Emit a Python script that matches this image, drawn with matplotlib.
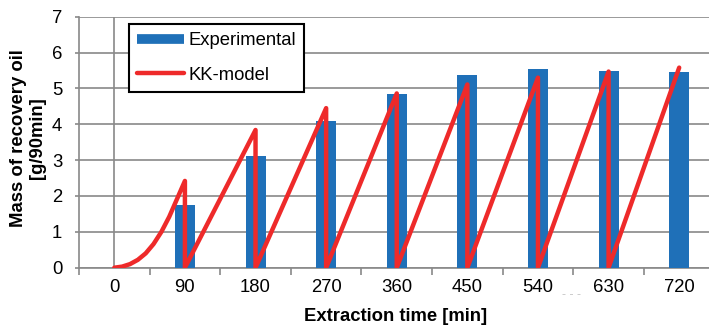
import matplotlib.pyplot as plt
from matplotlib.lines import Line2D
import numpy as np

plt.rcParams['font.family'] = ['Liberation Sans', 'DejaVu Sans']

# experimental mass of recovered oil per 90 min
times = [90, 180, 270, 360, 450, 540, 630, 720]
experimental = [1.75, 3.11, 4.10, 4.85, 5.37, 5.54, 5.49, 5.45]

# KK-model curve (sawtooth: resets to zero after each 90 min)
model_t = [0, 10, 20, 30, 40, 50, 60, 70, 80, 90,
           90, 180, 180, 270, 270, 360, 360, 450, 450, 540, 540, 630, 630, 720]
model_y = [0, 0.03, 0.1, 0.22, 0.4, 0.66, 1.0, 1.42, 1.92, 2.42,
           0, 3.84, 0, 4.45, 0, 4.86, 0, 5.11, 0, 5.30, 0, 5.47, 0, 5.58]

tick_labels = ['0', '90', '180', '270', '360', '450', '540', '630', '720']

grid_col = '#898989'
bar_col = '#1F70B8'
line_col = '#EE2A2A'
fs = 13.3

fig = plt.figure(figsize=(7.09, 3.27), dpi=100)
ax = fig.add_axes([79 / 709, 1 - 267.7 / 327, 1 - 79 / 709, 251 / 327])

ax.bar(times, experimental, width=25.5, color=bar_col, zorder=3)
ax.plot(model_t, model_y, color=line_col, lw=3.2, solid_capstyle='round',
        solid_joinstyle='round', zorder=4)

ax.set_xlim(-45, 758)
ax.set_ylim(0, 7)
ax.set_yticks(range(0, 8))
ax.yaxis.grid(True, color=grid_col, lw=1.2, zorder=0)
ax.axvline(0, color=grid_col, lw=1.2, zorder=1)

ax.set_xticks([0, 90, 180, 270, 360, 450, 540, 630, 720])
ax.set_xticklabels(tick_labels)
ax.set_xticks(np.arange(-45, 760, 90), minor=True)
ax.tick_params(axis='x', which='major', length=0, pad=8, labelsize=fs)
ax.tick_params(axis='x', which='minor', length=5, color=grid_col, width=1.2)
ax.tick_params(axis='y', length=3, color=grid_col, width=1.2, labelsize=fs, pad=9)

for s in ['top', 'right']:
    ax.spines[s].set_visible(False)
for s in ['left', 'bottom']:
    ax.spines[s].set_color(grid_col)
    ax.spines[s].set_linewidth(1.2)

ax.set_xlabel('Extraction time [min]', fontsize=fs, fontweight='bold')
ax.xaxis.set_label_coords(0.502, -0.196)
ax.xaxis.label.set_va('center')
ax.set_ylabel('Mass of recovery oil\n[g/90min]', fontsize=fs, fontweight='bold',
              linespacing=1.15)
ax.yaxis.set_label_coords(-0.081, 0.515)
ax.yaxis.label.set_va('center')

handles = [Line2D([], [], color=bar_col, lw=7, solid_capstyle='butt'),
           Line2D([], [], color=line_col, lw=3.2, solid_capstyle='round')]
leg = ax.legend(handles, ['Experimental', 'KK-model'], loc='upper left',
                bbox_to_anchor=(0.0794, 0.971), borderaxespad=0, fontsize=fs,
                frameon=True, fancybox=False, edgecolor='black', framealpha=1,
                handlelength=2.5, borderpad=0.45, labelspacing=0.95,
                handletextpad=0.27)
leg.get_frame().set_linewidth(1.5)

fig.text(571 / 709, 1 - 295 / 327, '- - -', color='#c4c4c4', fontsize=9,
         ha='center', va='center')

fig.savefig('out.png', dpi=100)
